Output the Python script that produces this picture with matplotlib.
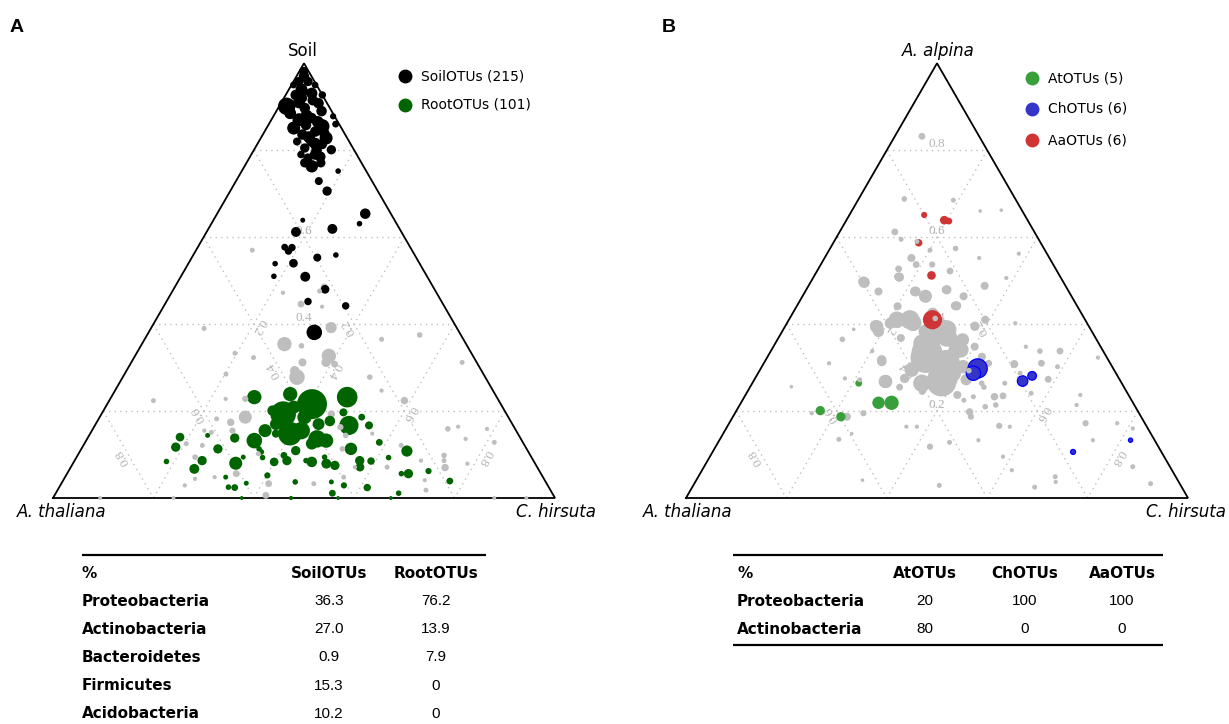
import numpy as np
import matplotlib
matplotlib.use('Agg')
import matplotlib.pyplot as plt

plt.rcParams['font.family'] = ['DejaVu Sans']

W, H = 1229, 724
SQ = np.sqrt(3) / 2

# ── Panel A: (% Soil [top], % C. hirsuta [right], rel. abundance); A. thaliana = rest ──
soil_otus = [
    (98.1, 0.9, 6.7), (95.8, 1.1, 6.7), (95.8, 2.9, 6.7), (92.7, 2.0, 9), (93.1, 5.0, 10.5),
    (90.1, 1.5, 29), (89.7, 5.3, 9), (90.8, 7.5, 9), (92.7, 7.3, 3.8), (87.0, 5.5, 15),
    (87.4, 7.8, 9), (85.5, 10.9, 18.6), (85.1, 5.4, 15), (87.8, 11.9, 2.3), (86.0, 13.3, 3),
    (83.6, 7.9, 9), (82.8, 13.0, 15), (82.0, 10.5, 9), (80.1, 15.4, 6.7), (80.5, 9.9, 6.7),
    (79.0, 12.7, 9), (76.3, 13.4, 13.4), (77.1, 11.6, 6.7), (77.1, 14.8, 6.7), (79.0, 9.9, 3.8),
    (95.0, 0.4, 3), (95.0, 4.7, 3), (72.9, 16.5, 4.6), (70.6, 19.3, 6.7), (75.2, 19.2, 1.7),
    (65.4, 29.5, 9), (63.1, 29.5, 1.7), (63.9, 17.8, 1.2), (61.2, 17.8, 7.8), (61.9, 24.7, 7.8),
    (57.7, 17.3, 3), (56.8, 18.5, 3.8), (54.0, 20.9, 5.6), (53.9, 17.3, 1.7), (55.3, 25.0, 4.6),
    (55.9, 28.4, 1.7), (51.0, 18.5, 1.7), (50.9, 24.8, 7.8), (48.0, 30.2, 5.6), (45.2, 28.2, 3.8),
    (44.2, 36.2, 3.8), (38.1, 33.0, 22.5), (57.6, 18.8, 3.8), (85.8, 7.5, 9), (84.3, 10.1, 9),
    (82.0, 7.6, 4.6), (81.3, 13.0, 6.7), (92.0, 3.7, 6.7), (78.2, 11.7, 6.7),
    (97.0, 1.5, 9), (94.0, 2.5, 12), (91.0, 3.5, 12), (88.5, 3.0, 12), (86.5, 9.5, 12),
    (84.0, 12.0, 9), (81.5, 11.5, 12), (78.5, 14.0, 9), (89.0, 9.0, 9), (93.5, 3.0, 9),
    (91.5, 6.0, 9), (88.0, 6.5, 12), (83.0, 9.5, 12), (80.0, 12.5, 9),
]
root_otus = [
    (21.6, 40.8, 94), (19.3, 36.2, 67), (14.8, 39.8, 57), (23.2, 47.0, 42), (16.7, 50.6, 36),
    (13.6, 45.8, 29), (23.9, 35.3, 18.6), (15.5, 41.7, 29), (13.2, 47.8, 18.6), (23.2, 28.5, 18.6),
    (13.2, 33.5, 22.5), (15.5, 34.5, 15), (11.3, 53.7, 13.4), (8.0, 32.4, 15), (10.8, 65.1, 10.5),
    (5.6, 68.0, 6.7), (6.7, 24.8, 7.8), (11.7, 18.6, 6.7), (14.0, 18.3, 5.6), (8.6, 25.4, 6.7),
    (11.3, 27.2, 6.7), (13.8, 29.3, 6.7), (8.3, 39.9, 5.6), (8.6, 42.3, 6.7), (8.3, 47.4, 9),
    (7.9, 50.5, 7.8), (7.5, 52.4, 6.7), (8.6, 56.8, 6.7), (7.1, 57.6, 5.6), (8.5, 59.1, 3.8),
    (16.7, 54.6, 4.6), (18.6, 52.2, 3), (12.8, 58.6, 3), (19.7, 48.0, 4.6), (14.8, 37.0, 4.6),
    (8.4, 18.4, 1.7), (14.4, 23.6, 1.2), (4.8, 32.0, 1.2), (2.4, 35.0, 3), (2.5, 33.7, 1.7),
    (3.4, 36.8, 1.2), (10.6, 36.2, 1.7), (9.3, 37.1, 1.7), (5.2, 40.1, 2.3), (3.7, 46.4, 1.7),
    (8.6, 46.1, 1.7), (9.4, 49.4, 1.7), (3.7, 53.6, 1.2), (1.1, 55.1, 3), (2.9, 56.5, 2.3),
    (2.4, 61.4, 3.8), (1.1, 68.3, 1.7), (6.2, 71.7, 2.3), (3.9, 77.1, 3), (5.6, 66.6, 1.7),
    (9.3, 62.2, 1.7), (9.8, 41.1, 3), (11.3, 35.4, 1.7), (9.4, 33.2, 1.2), (0.0, 37.6, 0.5),
    (0.0, 47.4, 0.7), (0.0, 56.8, 0.5), (0.0, 67.3, 0.5), (17.7, 46.3, 9), (17.0, 44.4, 12),
    (18.6, 40.8, 18.6), (20.9, 37.5, 15), (20.1, 33.7, 9), (17.0, 35.9, 12), (10.9, 42.9, 6.7),
    (12.5, 45.3, 12),
]
other_otus_a = [
    (44.6, 27.1, 3), (39.2, 35.8, 10.5), (35.4, 28.4, 18.6), (35.0, 32.0, 1.7), (32.7, 38.6, 18.6),
    (31.2, 38.8, 6.7), (31.2, 34.1, 4.6), (30.8, 40.7, 3), (27.8, 34.7, 22.5), (29.3, 33.5, 6.7),
    (33.3, 19.6, 1.2), (32.3, 23.8, 1.2), (28.5, 20.2, 1.2), (39.0, 10.6, 1.2), (48.5, 29.8, 3.8),
    (47.6, 29.3, 1.2), (27.8, 49.2, 1.7), (37.5, 54.3, 1.7), (31.2, 65.9, 1.2), (36.5, 47.2, 1.2),
    (22.4, 58.8, 3.8), (18.6, 29.0, 15), (17.4, 26.7, 3.8), (18.2, 23.5, 1.2), (15.5, 28.0, 2.3),
    (22.8, 26.9, 2.3), (22.4, 8.8, 1.2), (12.5, 20.3, 1.2), (9.4, 23.6, 1.7), (15.1, 24.0, 1.2),
    (12.1, 23.7, 1.2), (5.6, 33.7, 3), (3.3, 41.3, 3), (0.6, 42.1, 3), (4.8, 55.5, 1.2),
    (11.3, 52.0, 1.7), (14.4, 51.1, 1.7), (16.3, 49.1, 2.3), (19.3, 45.8, 3.8), (15.9, 70.7, 1.7),
    (7.0, 74.6, 3.8), (9.8, 73.0, 1.7), (8.6, 73.6, 1.2), (13.6, 75.4, 0.7), (15.9, 78.5, 0.7),
    (12.8, 81.5, 1.2), (16.4, 72.5, 0.7), (1.8, 73.4, 1.2), (0.0, 94.3, 0.5), (0.0, 87.9, 0.5),
    (0.0, 9.4, 0.5), (0.0, 24.0, 0.5), (57.0, 11.2, 1.2), (47.2, 22.2, 0.7), (44.0, 31.6, 0.7),
    (10.2, 35.8, 1.2), (7.1, 63.0, 1.2), (12.1, 63.3, 1.2), (8.6, 69.0, 0.7), (4.1, 72.0, 0.7),
    (7.9, 78.6, 0.7), (4.8, 29.8, 0.7), (2.9, 24.8, 0.7), (3.3, 50.3, 1.2), (14.8, 56.2, 0.7),
    (24.7, 53.1, 0.7), (7.1, 56.6, 0.7), (15.5, 22.4, 0.7), (4.4, 26.1, 0.7), (22.8, 23.0, 0.7),
]

# ── Panel B: (% A. alpina [top], % C. hirsuta [right], rel. abundance) ──
at_otus = [(26.4, 21.2, 3), (21.9, 27.4, 13.4), (21.9, 30.0, 18.6), (20.1, 16.7, 6.7), (18.7, 21.5, 6.7)]
ch_otus = [(29.8, 43.2, 36), (28.7, 42.9, 18.6), (26.9, 53.6, 9), (28.1, 54.9, 5.6),
           (10.6, 71.8, 1.2), (13.3, 81.9, 0.7)]
aa_otus = [(65.1, 14.9, 2.3), (63.9, 19.5, 5.6), (63.7, 20.5, 3), (58.7, 17.0, 3.8),
           (51.2, 23.3, 5.6), (41.0, 28.6, 36)]
other_otus_b = [
    (83.2, 5.4, 3), (68.8, 9.1, 1.7), (68.5, 19.0, 1.2), (66.0, 25.6, 0.4), (66.2, 29.7, 0.4),
    (61.2, 11.0, 3), (59.5, 13.1, 1.2), (57.0, 20.1, 1.2), (55.2, 17.3, 4.6), (53.7, 19.0, 3),
    (57.4, 25.0, 1.7), (53.7, 22.2, 2.3), (52.7, 16.0, 3), (50.8, 17.1, 6.7), (49.6, 10.7, 10.5),
    (52.2, 26.5, 3), (47.5, 14.6, 4.6), (47.5, 21.8, 6.7), (46.4, 24.5, 15), (47.9, 28.0, 6.7),
    (46.4, 32.1, 4.6), (44.2, 31.8, 6.7), (48.8, 35.1, 4.6), (44.1, 20.1, 4.6), (41.0, 24.1, 36),
    (40.2, 20.6, 10.5), (39.8, 17.7, 6.7), (38.3, 19.2, 10.5), (38.7, 32.6, 36), (38.3, 28.6, 18.6),
    (35.6, 29.2, 29), (36.4, 36.9, 15), (39.5, 37.8, 6.7), (41.0, 39.1, 4.6), (34.8, 40.1, 4.6),
    (32.2, 31.6, 94), (31.0, 36.4, 74), (26.8, 37.5, 94), (34.1, 37.7, 22.5), (27.2, 42.2, 10.5),
    (29.5, 30.2, 18.6), (27.5, 29.8, 6.7), (31.8, 23.1, 6.7), (26.8, 26.4, 15), (25.5, 29.8, 3),
    (23.7, 42.2, 4.6), (24.5, 34.8, 3), (26.0, 36.3, 4.6), (32.5, 42.7, 4.6), (31.0, 44.8, 3),
    (23.3, 49.8, 3.8), (23.5, 51.4, 3), (30.8, 50.0, 4.6), (31.0, 55.3, 3), (27.3, 58.5, 3),
    (33.8, 57.6, 3), (33.8, 53.6, 1.7), (34.8, 50.3, 0.7), (40.2, 45.5, 0.7), (24.1, 56.7, 1.2),
    (30.2, 58.9, 1.2), (32.3, 65.9, 0.7), (23.7, 66.7, 0.7), (21.4, 67.1, 0.7), (17.2, 71.0, 2.3),
    (17.2, 77.3, 0.7), (16.0, 81.0, 0.7), (13.3, 74.4, 0.7), (7.2, 85.4, 1.2), (3.3, 90.9, 1.2),
    (4.9, 71.1, 1.2), (3.7, 71.8, 0.7), (2.5, 68.2, 1.2), (6.4, 61.7, 0.7), (9.5, 58.4, 0.7),
    (16.6, 54.1, 2.3), (16.4, 56.3, 0.7), (19.8, 46.6, 3.8), (18.7, 47.4, 2.3), (21.0, 49.1, 1.7),
    (21.4, 51.0, 1.7), (13.3, 51.6, 0.7), (12.8, 46.1, 1.2), (11.8, 42.7, 2.3), (2.9, 49.0, 1.2),
    (16.4, 37.8, 0.7), (16.4, 35.7, 0.7), (19.5, 25.6, 2.3), (18.7, 22.7, 4.6), (27.2, 21.0, 1.2),
    (13.5, 23.7, 1.2), (36.5, 12.9, 1.7), (27.5, 17.9, 0.7), (31.0, 13.0, 0.7), (25.6, 8.2, 0.4),
    (19.5, 15.3, 0.7), (38.8, 14.0, 0.4), (33.8, 20.2, 0.7), (14.8, 25.6, 0.4), (4.1, 33.1, 0.4),
    (23.3, 45.6, 1.2), (26.4, 45.7, 1.7), (26.4, 50.3, 1.2), (28.7, 52.2, 1.2), (50.6, 38.5, 0.7),
    (55.2, 30.8, 0.7), (56.2, 38.2, 0.7), (22.5, 44.1, 1.2), (36.8, 24.4, 4.6), (42.5, 27.9, 10.5),
    (39.1, 31.4, 29), (36.4, 35.1, 10.5), (26.4, 33.8, 29), (28.7, 38.7, 29), (30.2, 40.0, 10.5),
    (41.3, 29.0, 1.7), (59.0, 16.5, 1.2), (29.3, 41.7, 1.7), (25.5, 46.6, 1.7),
    (41.0, 21.5, 26), (40.3, 25.1, 26), (33.4, 31.3, 100), (27.8, 37.3, 94), (37.1, 33.4, 39),
    (37.0, 30.7, 39), (34.0, 36.9, 26), (30.2, 40.1, 16), (39.4, 18.3, 16), (31.4, 23.3, 7),
    (26.8, 26.3, 16), (49.8, 10.4, 8), (50.9, 16.8, 4.6), (47.5, 22.0, 8), (46.3, 24.5, 8),
    (47.9, 27.8, 4.6), (44.2, 31.5, 5.5),
]

# ── tables ──
phyla_a = ['Proteobacteria', 'Actinobacteria', 'Bacteroidetes', 'Firmicutes', 'Acidobacteria']
pct_soil = [36.3, 27.0, 0.9, 15.3, 10.2]
pct_root = [76.2, 13.9, 7.9, 0, 0]
phyla_b = ['Proteobacteria', 'Actinobacteria']
pct_at = [20, 80]
pct_ch = [100, 0]
pct_aa = [100, 0]

GRAY = '#bebebe'
C_SOIL, C_ROOT = '#000000', '#006400'
C_AT, C_CH, C_AA = '#37a03a', '#3535c8', '#d03535'
ARIAL = ['Liberation Sans', 'DejaVu Sans']


def tern(top, right):
    top = np.asarray(top, float) / 100
    right = np.asarray(right, float) / 100
    return right + top / 2, top * SQ


def size(ab):
    r = 0.9 + 1.45 * np.sqrt(np.asarray(ab, float))   # radius in px
    return (2 * r * 0.72) ** 2


fig = plt.figure(figsize=(W / 100, H / 100), dpi=100)
fig.patch.set_facecolor('white')


def panel_ax(x0, base, side):
    ax = fig.add_axes([0, 0, 1, 1])
    ax.set_xlim(-x0 / side, (W - x0) / side)
    ax.set_ylim((base - H) / side, base / side)
    ax.axis('off'); ax.patch.set_alpha(0)
    # grid
    for k in [0.2, 0.4, 0.6, 0.8]:
        segs = [((k, 0), (k, 1 - k)), ((1 - k, 0), (0, 1 - k)), ((1 - k, k), (0, k))]
        for (a1, c1), (a2, c2) in segs:
            x, y = tern([a1 * 100, a2 * 100], [c1 * 100, c2 * 100])
            ax.plot(x, y, color='#c0c0c0', lw=1.0, ls=(0, (1, 3)), zorder=1)
        lab = f'{k:.1f}'
        m = (1 - k) / 2 * 100
        for (a, c), rot in [((k * 100, m), 0), ((m, m), 120), ((m, k * 100), -120)]:
            x, y = tern(a, c)
            ax.text(x, y, lab, ha='center', va='bottom', rotation=rot, rotation_mode='anchor',
                    family=['Liberation Serif', 'DejaVu Serif'], fontsize=9.5, color='#b4b4b4', zorder=1)
    ax.plot([0, 1, 0.5, 0], [0, 0, SQ, 0], color='k', lw=1.3, zorder=2, solid_joinstyle='miter')
    return ax


def draw_points(ax, groups, z):
    a, c, ab, col, ec = [], [], [], [], []
    for pts, color, edge in groups:
        for p in pts:
            a.append(p[0]); c.append(p[1]); ab.append(p[2]); col.append(color); ec.append(edge)
    if not a:
        return
    order = np.argsort(-np.array(ab), kind='stable')
    x, y = tern(np.array(a)[order], np.array(c)[order])
    ax.scatter(x, y, s=size(np.array(ab)[order]), c=[col[i] for i in order],
               edgecolors=[ec[i] for i in order], linewidths=0.9, zorder=z, clip_on=False)


def split(pts, cut=3):
    return [p for p in pts if p[2] >= cut], [p for p in pts if p[2] < cut]


axA = panel_ax(53, 498, 502)
big_a, small_a = split(other_otus_a)
draw_points(axA, [(big_a, GRAY, 'none')], 3)
draw_points(axA, [(soil_otus, C_SOIL, 'none'), (root_otus, C_ROOT, 'none')], 4)
draw_points(axA, [(small_a, GRAY, 'none')], 5)

axB = panel_ax(686, 498, 502)
big_b, small_b = split(other_otus_b)
draw_points(axB, [(big_b, GRAY, 'none')], 3)
draw_points(axB, [(at_otus, C_AT, 'none'), (ch_otus, C_CH, '#0000ff'), (aa_otus, C_AA, 'none')], 4)
draw_points(axB, [(small_b, GRAY, 'none')], 5)

# ── text overlay in pixel coordinates ──
tx = fig.add_axes([0, 0, 1, 1])
tx.set_xlim(0, W); tx.set_ylim(H, 0); tx.axis('off'); tx.patch.set_alpha(0)

tx.text(10, 28, 'A', fontsize=14, fontweight='bold', va='center', family=ARIAL)
tx.text(662, 28, 'B', fontsize=14, fontweight='bold', va='center', family=ARIAL)

VF = 12
tx.text(303, 51, 'Soil', fontsize=VF, ha='center', va='center')
tx.text(62, 512, 'A. thaliana', fontsize=VF, style='italic', ha='center', va='center')
tx.text(556, 512, 'C. hirsuta', fontsize=VF, style='italic', ha='center', va='center')
tx.text(938, 51, 'A. alpina', fontsize=VF, style='italic', ha='center', va='center')
tx.text(688, 512, 'A. thaliana', fontsize=VF, style='italic', ha='center', va='center')
tx.text(1186, 512, 'C. hirsuta', fontsize=VF, style='italic', ha='center', va='center')

leg_a = [('SoilOTUs', 215, C_SOIL), ('RootOTUs', 101, C_ROOT)]
for i, (nm, n, col) in enumerate(leg_a):
    y = 76 + i * 29
    tx.scatter([405], [y], s=100, color=col, linewidths=0)
    tx.text(421, y, f'{nm} ({n})', fontsize=10, va='center')
leg_b = [('AtOTUs', 5, C_AT), ('ChOTUs', 6, C_CH), ('AaOTUs', 6, C_AA)]
for i, (nm, n, col) in enumerate(leg_b):
    y = 78 + i * 31
    tx.scatter([1032], [y], s=100, color=col, linewidths=0)
    tx.text(1048, y, f'{nm} ({n})', fontsize=10, va='center')


def fmt(v):
    return '0' if v == 0 else f'{v:.1f}'


# Table A
FS = 11
BOLD = dict(fontsize=FS, fontweight='bold', va='center')
VAL = dict(fontsize=FS, ha='center', va='center', family=ARIAL)
tx.plot([82, 486], [555, 555], color='k', lw=1.6, solid_capstyle='butt')
tx.text(82, 573, '%', **BOLD)
tx.text(329, 573, 'SoilOTUs', ha='center', **BOLD)
tx.text(436, 573, 'RootOTUs', ha='center', **BOLD)
for i, ph in enumerate(phyla_a):
    y = 601 + i * 28.2
    tx.text(82, y, ph, **BOLD)
    tx.text(329, y, fmt(pct_soil[i]), **VAL)
    tx.text(436, y, fmt(pct_root[i]), **VAL)

# Table B
tx.plot([733, 1163], [555, 555], color='k', lw=1.6, solid_capstyle='butt')
tx.plot([733, 1163], [645, 645], color='k', lw=1.6, solid_capstyle='butt')
tx.text(737, 573, '%', **BOLD)
for xc, hd in zip([925, 1025, 1122], ['AtOTUs', 'ChOTUs', 'AaOTUs']):
    tx.text(xc, 573, hd, ha='center', **BOLD)
for i, ph in enumerate(phyla_b):
    y = 601 + i * 28
    tx.text(737, y, ph, **BOLD)
    for xc, vals in zip([925, 1025, 1122], [pct_at, pct_ch, pct_aa]):
        tx.text(xc, y, str(vals[i]), **VAL)

fig.savefig('out.png', dpi=100, facecolor='white')
